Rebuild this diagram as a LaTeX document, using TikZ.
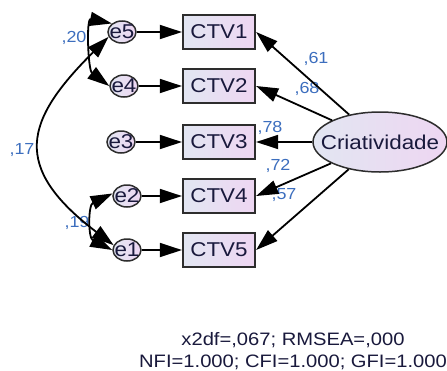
\documentclass[tikz,border=0pt]{standalone}
\usepackage{fontspec}
\setmainfont{Liberation Sans}[FakeStretch=1.12]
\usetikzlibrary{arrows.meta,shapes.geometric}
\definecolor{ntext}{RGB}{25,25,60}
\definecolor{lblue}{RGB}{60,110,190}
\definecolor{fillL}{RGB}{226,230,242}
\definecolor{fillR}{RGB}{238,214,242}
\definecolor{bord}{RGB}{45,45,45}
\begin{document}
\begin{tikzpicture}[x=1pt,y=-1pt,
  obs/.style={draw=bord,line width=2.2pt,left color=fillL,right color=fillR,
    minimum width=72pt,minimum height=34pt,inner sep=0pt,
    font=\fontsize{20}{22}\selectfont,text=ntext},
  errc/.style={ellipse,draw=bord,line width=1.5pt,left color=fillL,right color=fillR,
    minimum width=28pt,minimum height=22pt,inner sep=0pt},
  lat/.style={ellipse,draw=bord,line width=1.5pt,left color=fillL,right color=fillR,
    minimum width=134pt,minimum height=60pt,inner sep=0pt},
  ntxt/.style={inner sep=0pt,font=\fontsize{20}{22}\selectfont,text=ntext},
  lab/.style={inner sep=0pt,font=\fontsize{16}{18}\selectfont,text=lblue},
  fit/.style={inner sep=0pt,font=\fontsize{18}{20}\selectfont,text=ntext,anchor=base},
  arr/.style={draw=black,line width=1.8pt,-{Triangle[length=22pt,width=14pt]}},
  arrtwo/.style={draw=black,line width=1.8pt,{Triangle[length=22pt,width=14pt]}-{Triangle[length=22pt,width=14pt]}}
]
\useasboundingbox (0,0) rectangle (447,370);
\fill[white] (0,0) rectangle (447,370);

% observed variables
\node[obs] (c1) at (219,32) {CTV1};
\node[obs] (c2) at (219,86) {CTV2};
\node[obs] (c3) at (219,142) {CTV3};
\node[obs] (c4) at (219,196) {CTV4};
\node[obs] (c5) at (219,250) {CTV5};

% error terms
\node[errc] (e5) at (122,32) {};
\node[errc] (e4) at (124,86) {};
\node[errc] (e3) at (121,142) {};
\node[errc] (e2) at (127,196) {};
\node[errc] (e1) at (127,250) {};
\node[ntxt] (t5) at (e5) {e5};
\node[ntxt] (t4) at (e4) {e4};
\node[ntxt] (t3) at (e3) {e3};
\node[ntxt] (t2) at (e2) {e2};
\node[ntxt] (t1) at (e1) {e1};

% latent
\node[lat] (crea) at (380,142) {};
\node[ntxt] (tcrea) at (crea) {Criatividade};

% labels
\node[lab] (l61) at (316,59) {,61};
\node[lab] (l68) at (307,89) {,68};
\node[lab] (l78) at (270,128) {,78};
\node[lab] (l72) at (278,166) {,72};
\node[lab] (l57) at (284,195) {,57};
\node[lab] (l20) at (74,38) {,20};
\node[lab] (l17) at (22,150) {,17};
\node[lab] (l19) at (77,223) {,19};

% error -> indicator
\draw[arr] (e5) -- (c1);
\draw[arr] (e4) -- (c2);
\draw[arr] (e3) -- (c3);
\draw[arr] (e2) -- (c4);
\draw[arr] (e1) -- (c5);

% latent -> indicators
\draw[arr] (crea) -- (c1.east);
\draw[arr] (crea) -- (c2.east);
\draw[arr] (crea) -- (c3.east);
\draw[arr] (crea) -- (c4.east);
\draw[arr] (crea) -- (c5.east);

% covariances
\draw[arrtwo] (e5.200) .. controls (24,121) and (11,167) .. (e1.160);
\draw[arrtwo] (e4.180) .. controls (88,70) and (86,18) .. (e5.140);
\draw[arrtwo] (e2.170) .. controls (88,205) and (88,238) .. (e1.180);

% fit indices
\node[fit] (fit1) at (293,345) {x2df=,067; RMSEA=,000};
\node[fit] (fit2) at (293,367) {NFI=1.000; CFI=1.000; GFI=1.000};
\end{tikzpicture}
\end{document}
